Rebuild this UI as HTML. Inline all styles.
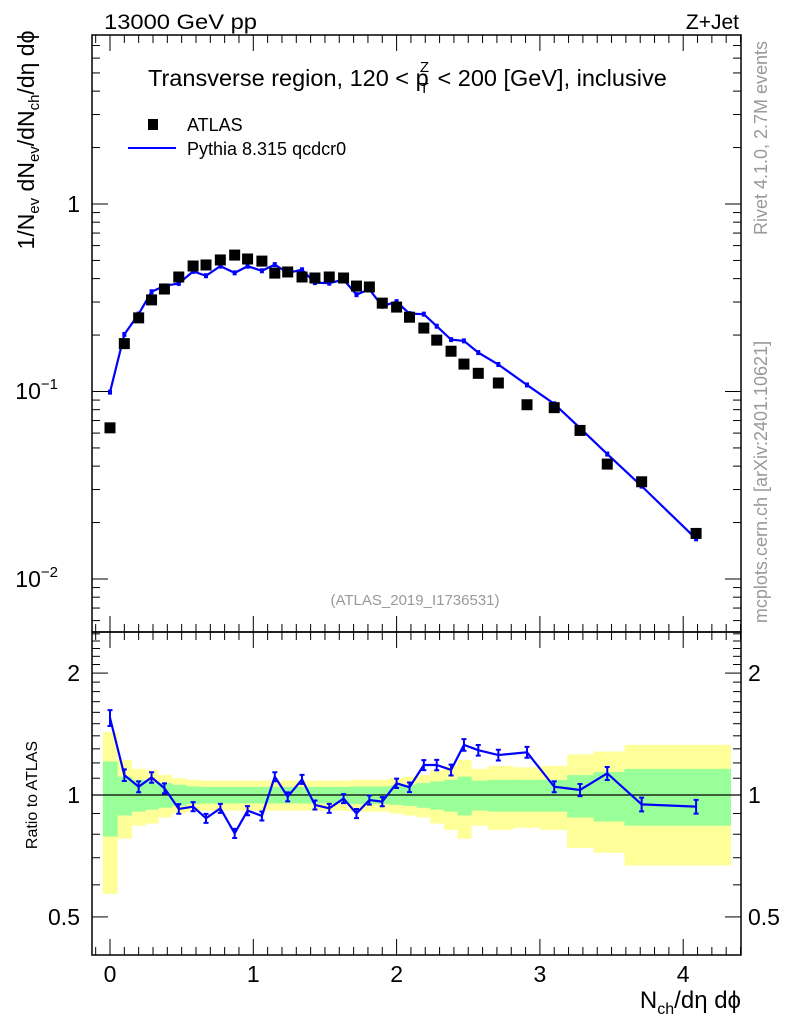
<!DOCTYPE html>
<html><head><meta charset="utf-8">
<style>
html,body{margin:0;padding:0;background:#fff;}
svg{display:block;font-family:"Liberation Sans",sans-serif;}
</style></head>
<body>
<svg id="chart" width="786" height="1024" xmlns="http://www.w3.org/2000/svg"></svg>
<script>
const xVals=[0,0.1,0.2,0.29,0.38,0.48,0.58,0.67,0.77,0.87,0.96,1.06,1.15,1.24,1.34,1.43,1.53,1.63,1.72,1.81,1.9,2.0,2.09,2.19,2.28,2.38,2.47,2.57,2.71,2.91,3.1,3.28,3.47,3.71,4.09];
const atlasVals=[0.064,0.18,0.247,0.308,0.352,0.408,0.467,0.473,0.503,0.534,0.509,0.496,0.428,0.434,0.408,0.403,0.408,0.403,0.365,0.361,0.296,0.282,0.249,0.218,0.188,0.164,0.140,0.125,0.111,0.085,0.082,0.062,0.041,0.033,0.0175];
const ratioVals=[1.55,1.12,1.048,1.105,1.039,0.924,0.936,0.876,0.927,0.804,0.915,0.888,1.11,0.99,1.093,0.945,0.927,0.98,0.90,0.972,0.963,1.069,1.045,1.186,1.186,1.153,1.33,1.29,1.255,1.275,1.048,1.029,1.131,0.948,0.936];
const statErr=[0.21,0.11,0.09,0.08,0.07,0.06,0.05,0.047,0.047,0.047,0.047,0.047,0.047,0.047,0.047,0.047,0.047,0.047,0.05,0.05,0.05,0.055,0.06,0.07,0.08,0.09,0.11,0.085,0.09,0.09,0.09,0.12,0.14,0.16,0.16];
const totErr=[0.43,0.22,0.16,0.15,0.12,0.10,0.09,0.085,0.085,0.085,0.085,0.085,0.085,0.085,0.085,0.085,0.085,0.085,0.09,0.09,0.09,0.10,0.11,0.12,0.15,0.18,0.22,0.16,0.18,0.17,0.18,0.26,0.28,0.33,0.33];
const mainTickLabels=["1","10","10"];
const ratioTickVals=[0.5,1,2];
const xTickVals=[0,1,2,3,4];

const svg=document.getElementById('chart');
const NS='http://www.w3.org/2000/svg';
function mk(tag,attrs,parent){const e=document.createElementNS(NS,tag);for(const k in attrs)e.setAttribute(k,attrs[k]);(parent||svg).appendChild(e);return e;}
const L=92,R=741,T=35,M=632,B=955;
const X=v=>110+v*143.3;
const Ym=v=>204-Math.log10(v)*187.5;
const Yr=v=>795-Math.log10(v)*405;

const edges=[-0.05];
for(let i=0;i<xVals.length-1;i++)edges.push((xVals[i]+xVals[i+1])/2);
edges.push(4.33);
edges[edges.length-2]=3.86;

const gBand=mk('g',{});
for(let i=0;i<xVals.length;i++){
  const x0=X(edges[i]),x1=X(edges[i+1]);
  const y=mk('rect',{x:x0,y:Yr(1+totErr[i]),width:x1-x0+0.5,height:Yr(1-totErr[i])-Yr(1+totErr[i]),fill:'#ffff99'},gBand);
  
}
for(let i=0;i<xVals.length;i++){
  const x0=X(edges[i]),x1=X(edges[i+1]);
  const g=mk('rect',{x:x0,y:Yr(1+statErr[i]),width:x1-x0+0.5,height:Yr(1-statErr[i])-Yr(1+statErr[i]),fill:'#99ff99'},gBand);
  
}
const one=mk('line',{x1:L,x2:R,y1:Yr(1),y2:Yr(1),stroke:'#000','stroke-width':1.2});


for(const [y0,y1,n] of [[T,M,'main-plot-frame'],[M,B,'ratio-plot-frame']]){
  const r=mk('rect',{x:L,y:y0,width:R-L,height:y1-y0,fill:'none',stroke:'#000','stroke-width':1.5});
  
}
for(const [yb,ytop] of [[M,T],[B,M]]){
  for(let v=-0.1;v<=4.41;v+=0.1){
    const vv=Math.round(v*10)/10;const major=Math.abs(vv-Math.round(vv))<1e-6;
    const len=major?16:8;const x=X(vv);if(x<L||x>R)continue;
    mk('line',{x1:x,x2:x,y1:yb,y2:yb-len,stroke:'#000','stroke-width':1});
    mk('line',{x1:x,x2:x,y1:ytop,y2:ytop+len,stroke:'#000','stroke-width':1});
  }
}
xTickVals.forEach(v=>{const t=mk('text',{x:X(v),y:982,'font-size':23,'text-anchor':'middle'});t.textContent=v;
});
for(let d=-3;d<=0;d++){for(let m=1;m<10;m++){const v=m*Math.pow(10,d);const y=Ym(v);if(y<T||y>M)continue;
  const len=m==1?16:8;mk('line',{x1:L,x2:L+len,y1:y,y2:y,stroke:'#000'});mk('line',{x1:R,x2:R-len,y1:y,y2:y,stroke:'#000'});}}
const ml1=mk('text',{x:80,y:212,'font-size':23,'text-anchor':'end'});ml1.textContent=mainTickLabels[0];

[[-1,391],[-2,579]].forEach(([e,y])=>{const t=mk('text',{x:58,y:y+8,'font-size':23,'text-anchor':'end'});t.textContent=mainTickLabels[1];
 const s=mk('tspan',{dy:-10,'font-size':15});s.textContent=e==-2?'\u22122':'\u22121';t.appendChild(s);
 
 t.setAttribute('x',58);});
for(let v=0.4;v<=2.55;v+=0.1){const vv=Math.round(v*10)/10;const y=Yr(vv);if(y<M||y>B)continue;
 const major=ratioTickVals.includes(vv);const len=major?16:8;
 mk('line',{x1:L,x2:L+len,y1:y,y2:y,stroke:'#000'});mk('line',{x1:R,x2:R-len,y1:y,y2:y,stroke:'#000'});}
ratioTickVals.forEach(v=>{const t=mk('text',{x:80,y:Yr(v)+8,'font-size':23,'text-anchor':'end'});t.textContent=v;
 
 const t2=mk('text',{x:748,y:Yr(v)+8,'font-size':23});t2.textContent=v;
 });

const mcVals=atlasVals.map((a,i)=>a*ratioVals[i]);
const mcLine=mk('polyline',{points:xVals.map((x,i)=>X(x)+','+Ym(mcVals[i])).join(' '),fill:'none',stroke:'#0000ff','stroke-width':2.2});

xVals.forEach((x,i)=>{const p=mk('rect',{x:X(x)-2,y:Ym(mcVals[i])-2.5,width:4,height:5,fill:'#0000ff'});
 });
xVals.forEach((x,i)=>{const p=mk('rect',{x:X(x)-5.5,y:Ym(atlasVals[i])-5.5,width:11,height:11,fill:'#000'});
 });
const rLine=mk('polyline',{points:xVals.map((x,i)=>X(x)+','+Yr(ratioVals[i])).join(' '),fill:'none',stroke:'#0000ff','stroke-width':2.2});

xVals.forEach((x,i)=>{const e=0.02+statErr[i]*0.12;const y0=Yr(ratioVals[i]*(1+e)),y1=Yr(ratioVals[i]*(1-e));const cx=X(x);
 const g=mk('path',{d:`M${cx},${y0}V${y1}M${cx-2.5},${y0}h5M${cx-2.5},${y1}h5`,stroke:'#0000ff','stroke-width':2,fill:'none'});
 });

function txt(name,s,attrs){const t=mk('text',attrs);t.textContent=s;return t;}
txt('energy-label','13000 GeV pp',{x:104,y:29,'font-size':21,textLength:153,lengthAdjust:'spacingAndGlyphs'});
txt('process-label','Z+Jet',{x:739,y:29,'font-size':21,'text-anchor':'end'});
const ti=txt('plot-title','Transverse region, 120 < p',{x:148,y:86,'font-size':23.5});
const sub=mk('tspan',{'font-size':15,dy:7,dx:-9});sub.textContent='T';ti.appendChild(sub);
const sup=mk('tspan',{'font-size':15,dy:-21,dx:-9});sup.textContent='Z';ti.appendChild(sup);
const rest=mk('tspan',{'font-size':23.5,dy:14,dx:2});rest.textContent=' < 200 [GeV], inclusive';ti.appendChild(rest);
const lsq=mk('rect',{x:148,y:119,width:10,height:11,fill:'#000'});
txt('legend-atlas-label','ATLAS',{x:187,y:131,'font-size':18});
const lln=mk('line',{x1:128,x2:176,y1:148,y2:148,stroke:'#0000ff','stroke-width':2});
txt('legend-pythia-label','Pythia 8.315 qcdcr0',{x:187,y:155,'font-size':18});
txt('analysis-id','(ATLAS_2019_I1736531)',{x:415,y:605,'font-size':15,fill:'#999','text-anchor':'middle'});
txt('rivet-label','Rivet 4.1.0,  2.7M events',{x:0,y:0,'font-size':18,fill:'#999','text-anchor':'middle',transform:'translate(767,138) rotate(-90)'});
txt('mcplots-label','mcplots.cern.ch [arXiv:2401.10621]',{x:0,y:0,'font-size':18,fill:'#999','text-anchor':'middle',transform:'translate(767,482) rotate(-90)'});
const yt=txt('y-axis-title','1/N',{x:0,y:0,'font-size':23,'text-anchor':'middle',transform:'translate(34,140) rotate(-90)'});
yt.innerHTML='1/N<tspan font-size="15" dy="5">ev</tspan><tspan dy="-5"> dN</tspan><tspan font-size="15" dy="5">ev</tspan><tspan dy="-5">/dN</tspan><tspan font-size="15" dy="5">ch</tspan><tspan dy="-5">/dη dϕ</tspan>';
txt('ratio-axis-title','Ratio to ATLAS',{x:0,y:0,'font-size':16,'text-anchor':'middle',transform:'translate(37,795) rotate(-90)'});
const xt=txt('x-axis-title','N',{x:741,y:1008,'font-size':24,'text-anchor':'end'});
xt.innerHTML='N<tspan font-size="16" dy="6">ch</tspan><tspan dy="-6">/dη dϕ</tspan>';
</script>
</body></html>
